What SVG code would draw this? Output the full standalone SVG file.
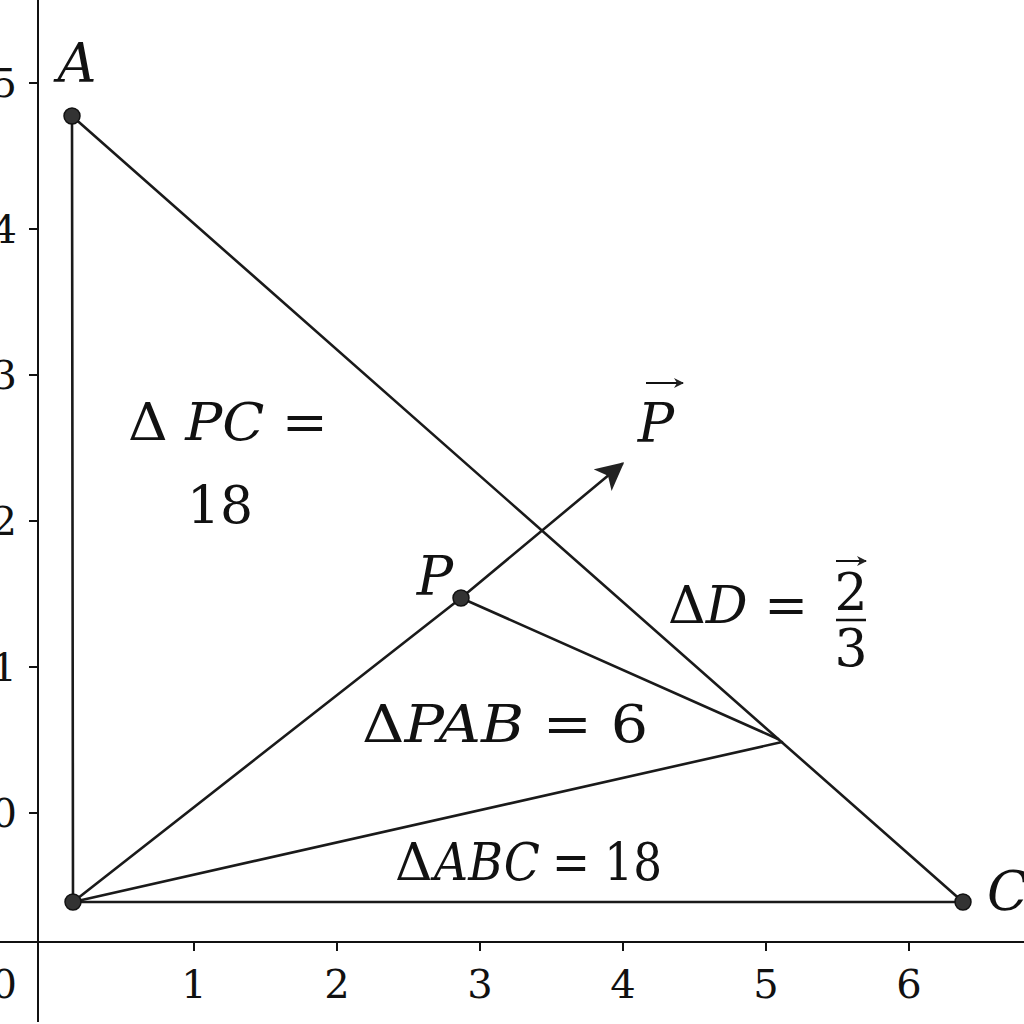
<svg xmlns="http://www.w3.org/2000/svg" width="1024" height="1024" viewBox="0 0 1024 1024">
<defs>
<style>
.axis{stroke:#111;stroke-width:2;fill:none}
.edge{stroke:#1a1a1a;stroke-width:2.6;fill:none;stroke-linecap:round}
.pt{fill:#333;stroke:#111;stroke-width:1.5}
.num{font-size:40px;fill:#111}
.lab{font-style:italic;font-size:54px;fill:#111}
.eq{font-size:52px;fill:#111}
.it{font-style:italic}
</style>
<marker id="ah" viewBox="0 0 10 10" refX="9" refY="5" markerWidth="10" markerHeight="10" markerUnits="userSpaceOnUse" orient="auto">
<path d="M0,0 L10,5 L0,10 L3,5 Z" fill="#222"/>
</marker>
<marker id="ahBig" viewBox="0 0 10 10" refX="9" refY="5" markerWidth="28" markerHeight="28" markerUnits="userSpaceOnUse" orient="auto">
<path d="M0,0 L10,5 L0,10 L2.5,5 Z" fill="#222"/>
</marker>
</defs>
<rect width="1024" height="1024" fill="#fff"/>
<g font-family="DejaVu Serif, Liberation Serif, serif">
<g id="axes">
<line class="axis" x1="38" y1="0" x2="38" y2="1022"/>
<line class="axis" x1="0" y1="942" x2="1024" y2="942"/>
<path class="axis" d="M29,83H38M29,229H38M29,375H38M29,521H38M29,667H38M29,813H38"/>
<path class="axis" d="M194,942V951M337,942V951M480,942V951M623,942V951M766,942V951M909,942V951"/>
<g class="num" text-anchor="end">
<text x="17" y="97">5</text>
<text x="17" y="243">4</text>
<text x="17" y="389">3</text>
<text x="17" y="535">2</text>
<text x="17" y="681">1</text>
<text x="17" y="827">0</text>
<text x="17" y="998">0</text>
</g>
<g class="num" text-anchor="middle">
<text x="194" y="998">1</text>
<text x="337" y="998">2</text>
<text x="480" y="998">3</text>
<text x="623" y="998">4</text>
<text x="766" y="998">5</text>
<text x="909" y="998">6</text>
</g>
</g>
<g id="connectors">
<line class="edge" x1="72" y1="116" x2="73" y2="902"/>
<line class="edge" x1="72" y1="116" x2="963" y2="902"/>
<line class="edge" x1="73" y1="902" x2="963" y2="902"/>
<line class="edge" x1="73" y1="902" x2="461" y2="598"/>
<line class="edge" x1="461" y1="598" x2="778" y2="739"/>
<line class="edge" x1="73" y1="902" x2="782" y2="742"/>
<line class="edge" x1="461" y1="598" x2="622" y2="464" marker-end="url(#ahBig)"/>
</g>
<g id="nodeA"><circle class="pt" cx="72" cy="116" r="8"/><text class="lab" x="77" y="82" text-anchor="middle">A</text></g>
<g id="nodeB"><circle class="pt" cx="73" cy="902" r="8"/></g>
<g id="nodeC"><circle class="pt" cx="963" cy="902" r="8"/><text class="lab" x="987" y="910">C</text></g>
<g id="nodeP"><circle class="pt" cx="461" cy="598" r="8"/><text class="lab" x="435" y="595" text-anchor="middle">P</text></g>
<g id="vecP">
<text class="lab" x="656" y="442" text-anchor="middle" font-size="68">P</text>
<line stroke="#111" stroke-width="2" x1="646" y1="383" x2="683" y2="383" marker-end="url(#ah)"/>
</g>
<g id="labelPC">
<text class="eq" x="128" y="440" font-size="54" textLength="200" lengthAdjust="spacingAndGlyphs">Δ <tspan class="it">PC</tspan> =</text>
<text class="eq" x="220" y="523" text-anchor="middle" font-size="60">18</text>
</g>
<g id="labelD">
<text class="eq" x="668" y="623" textLength="140" lengthAdjust="spacingAndGlyphs">Δ<tspan class="it">D</tspan> =</text>
<line stroke="#111" stroke-width="2" x1="836" y1="561" x2="866" y2="561" marker-end="url(#ah)"/>
<text class="eq" x="851" y="610" text-anchor="middle" font-size="44">2</text>
<line stroke="#111" stroke-width="2.5" x1="836" y1="620" x2="866" y2="620"/>
<text class="eq" x="851" y="666" text-anchor="middle" font-size="44">3</text>
</g>
<g id="labelPAB">
<text class="eq" x="362" y="742" textLength="286" lengthAdjust="spacingAndGlyphs">Δ<tspan class="it">PAB</tspan> = 6</text>
</g>
<g id="labelABC" font-size="42">
<text class="eq" x="395" y="880" font-size="42">Δ</text>
<text class="eq it" x="434" y="880" font-size="42" textLength="106" lengthAdjust="spacingAndGlyphs">ABC</text>
<text class="eq" x="552" y="880" font-size="42" textLength="110" lengthAdjust="spacingAndGlyphs">= 18</text>
</g>
</g>
</svg>
